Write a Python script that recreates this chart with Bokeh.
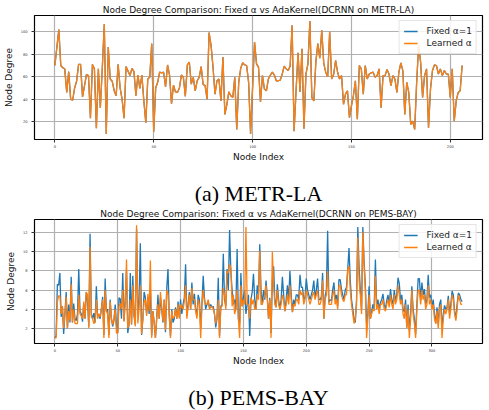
from bokeh.plotting import figure
from bokeh.layouts import column
from bokeh.models import Range1d, Title, FixedTicker
from bokeh.embed import file_html
from bokeh.resources import INLINE

# ---------------- data ----------------
metr_title = "Node Degree Comparison: Fixed α vs AdaKernel(DCRNN on METR-LA)"
pems_title = "Node Degree Comparison: Fixed α vs AdaKernel(DCRNN on PEMS-BAY)"
series_labels = ["Fixed α=1", "Learned α"]
x_label = "Node Index"
y_label = "Node Degree"
captions = ["(a) METR-LA", "(b) PEMS-BAY"]

metr_xticks = [0, 50, 100, 150, 200]
metr_yticks = [20, 40, 60, 80, 100]
pems_xticks = [0, 50, 100, 150, 200, 250, 300]
pems_yticks = [2, 4, 6, 8, 10, 12]

metr_fixed = [
    70, 86, 102, 70, 68, 67, 46, 64.5, 40, 39,
    50, 56, 71, 71, 42, 52, 62, 61, 23, 71,
    67, 14, 67, 32, 68, 107, 9, 86.5, 58, 56,
    47.5, 43, 71, 50, 40, 23, 69, 65, 61, 67.5,
    64.5, 43, 61.5, 49.5, 61.5, 38.5, 19, 58, 59.5, 89.5,
    11, 50, 55, 64, 63.5, 64, 51, 70.5, 61.5, 36,
    52.5, 46.5, 46, 50, 61.5, 59.5, 42.5, 70.5, 73, 53.4,
    59.4, 47.4, 56.4, 59.4, 69, 53, 52, 40, 99.4, 88,
    68.5, 44.4, 56.4, 58, 38.4, 77.5, 26.4, 35.4, 46.5, 43,
    41.4, 59.4, 13, 55, 67.5, 72.4, 70.6, 70, 55, 9,
    50, 91, 71.5, 68.5, 37.5, 61, 49, 47.4, 58, 61.5,
    64, 61.5, 56.4, 56.4, 57, 62.4, 69.4, 67, 65.5, 69.4,
    106, 11.4, 47.4, 81.4, 46.5, 85, 13.5, 62.4, 71.5, 109.6,
    41.4, 38.4, 73, 89.5, 76.5, 101.5, 72, 64, 60, 100,
    58, 62, 74.5, 64, 58, 61, 35.4, 44.4, 47.4, 23.4,
    34, 43, 56.4, 22, 70, 67, 44.4, 70, 58, 62.4,
    63.4, 64, 59.4, 61, 67, 32.4, 61, 61, 66.4, 62.4,
    52, 61, 58, 46, 64, 72.4, 65.5, 26.4, 55, 46,
    17.4, 20.4, 13, 55, 88, 73, 41.4, 61, 67, 14.4,
    49, 65.5, 70.6, 70, 62.4, 67, 61, 65.5, 62.4, 62.4,
    41.4, 67, 20.4, 38.4, 46, 47.4, 70,
]
metr_learned = [
    70, 86, 102, 70, 68, 67, 46, 64.5, 40, 39,
    50, 56, 71, 71, 42, 52, 62, 61, 23, 71,
    67, 14, 67, 32, 68, 107, 9, 86.5, 58, 56,
    47.5, 43, 71, 50, 40, 23, 69, 65, 61, 67.5,
    64.5, 43, 61.5, 49.5, 61.5, 38.5, 19, 58, 59.5, 89.5,
    11, 50, 55, 64, 63.5, 64, 51, 70.5, 61.5, 36,
    52.5, 46.5, 46, 50, 61.5, 59.5, 42.5, 70.5, 73, 53.4,
    59.4, 47.4, 56.4, 59.4, 69, 53, 52, 40, 99.4, 88,
    68.5, 44.4, 56.4, 58, 38.4, 77.5, 26.4, 35.4, 46.5, 43,
    41.4, 59.4, 13, 55, 67.5, 72.4, 70.6, 70, 55, 9,
    50, 91, 71.5, 68.5, 37.5, 61, 49, 47.4, 58, 61.5,
    64, 61.5, 56.4, 56.4, 57, 62.4, 69.4, 67, 65.5, 69.4,
    106, 11.4, 47.4, 81.4, 46.5, 85, 13.5, 62.4, 71.5, 109.6,
    41.4, 38.4, 73, 89.5, 76.5, 101.5, 72, 64, 60, 100,
    58, 62, 74.5, 64, 58, 61, 35.4, 44.4, 47.4, 23.4,
    34, 43, 56.4, 22, 70, 67, 44.4, 70, 58, 62.4,
    63.4, 64, 59.4, 61, 67, 32.4, 61, 61, 66.4, 62.4,
    52, 61, 58, 46, 64, 72.4, 65.5, 26.4, 55, 46,
    17.4, 20.4, 13, 55, 88, 73, 41.4, 61, 67, 14.4,
    49, 65.5, 70.6, 70, 62.4, 67, 61, 65.5, 62.4, 62.4,
    41.4, 67, 20.4, 38.4, 46, 47.4, 70,
]

pems_fixed = [
    1.0, 1.2, 6.6, 6.5, 7.8, 3.2, 4.3, 1.4, 3.5, 5.8,
    2.0, 4.5, 2.6, 7.4, 2.6, 4.6, 3.0, 2.8, 3.5, 8.2,
    3.8, 3.5, 2.7, 4.6, 3.0, 5.8, 4.8, 2.2, 11.9, 3.5,
    3.0, 3.6, 2.6, 6.4, 3.2, 3.5, 3.0, 4.0, 5.3, 1.3,
    7.2, 3.8, 4.0, 1.3, 5.0, 3.0, 2.2, 2.8, 4.5, 2.4,
    1.5, 5.2, 5.1, 3.0, 7.8, 2.8, 5.0, 8.0, 1.5, 2.4,
    7.8, 2.4, 7.5, 3.4, 2.4, 12.4, 3.5, 5.0, 10.9, 1.3,
    3.0, 5.8, 5.2, 3.5, 5.0, 3.5, 6.0, 1.2, 3.8, 2.6,
    1.0, 3.0, 5.5, 3.0, 5.2, 4.0, 2.6, 5.0, 1.6, 6.2,
    8.2, 3.4, 1.2, 4.0, 2.6, 3.0, 4.2, 3.0, 4.8, 3.2,
    5.0, 3.5, 4.5, 5.2, 8.7, 3.3, 4.5, 5.8, 4.0, 6.8,
    4.5, 5.6, 4.0, 3.3, 5.5, 5.0, 2.0, 4.5, 7.5, 5.2,
    4.0, 4.5, 4.8, 4.2, 4.5, 4.2, 4.3, 3.5, 2.1, 3.0,
    7.3, 1.2, 4.3, 4.5, 9.8, 5.0, 4.3, 8.2, 6.0, 12.3,
    8.0, 6.0, 4.5, 5.0, 4.0, 10.3, 3.0, 2.5, 7.8, 4.3,
    5.2, 6.0, 3.5, 4.5, 5.5, 1.2, 5.0, 5.8, 7.7, 5.0,
    4.0, 6.5, 5.5, 10.8, 6.0, 4.5, 6.0, 5.0, 7.0, 5.3,
    3.0, 5.2, 1.5, 7.0, 8.5, 5.0, 4.2, 6.6, 5.0, 4.0,
    5.0, 7.4, 5.5, 3.8, 5.0, 6.5, 5.0, 8.0, 5.6, 3.7,
    5.0, 4.5, 5.5, 5.5, 5.0, 7.6, 6.3, 6.3, 5.0, 5.2,
    7.2, 6.0, 5.5, 5.0, 5.5, 6.0, 7.0, 5.2, 6.0, 7.2,
    5.0, 5.0, 5.3, 7.8, 3.0, 5.4, 6.0, 12.2, 4.7, 5.0,
    4.9, 6.0, 6.8, 5.0, 5.5, 4.3, 7.1, 7.1, 6.1, 5.5,
    5.0, 6.0, 6.3, 8.2, 10.4, 7.0, 5.0, 4.0, 3.0, 2.6,
    5.0, 12.6, 8.5, 6.0, 4.0, 12.6, 9.0, 6.5, 2.5, 3.5,
    6.4, 3.0, 3.7, 4.5, 4.0, 9.2, 4.2, 5.0, 4.0, 4.7,
    5.0, 5.6, 4.5, 4.0, 4.9, 5.5, 4.5, 6.1, 5.0, 4.5,
    6.0, 4.9, 5.5, 7.3, 6.7, 4.9, 5.5, 4.0, 3.7, 5.0,
    2.1, 4.5, 1.8, 3.5, 6.4, 4.0, 3.0, 1.4, 4.5, 7.2,
    7.2, 5.0, 6.8, 5.5, 6.1, 4.5, 5.0, 7.6, 5.2, 5.5,
    4.3, 5.0, 3.5, 2.5, 4.2, 2.4, 4.5, 5.0, 2.0, 3.5,
    4.4, 4.0, 4.2, 5.4, 3.5, 4.5, 5.9, 5.5, 3.8, 3.0,
    4.5, 5.7, 5.5, 5.0, 4.8,
]
pems_learned = [
    1.0, 1.0, 4.8, 5.4, 5.4, 3.5, 4.3, 2.0, 3.5, 5.3,
    2.0, 3.8, 2.8, 6.6, 2.6, 4.0, 2.5, 2.5, 2.5, 5.5,
    3.5, 3.3, 3.0, 4.8, 3.0, 5.8, 5.5, 2.0, 10.5, 3.3,
    3.0, 2.5, 2.6, 5.0, 3.0, 3.5, 3.2, 4.0, 5.0, 1.0,
    6.0, 3.8, 3.5, 1.0, 4.8, 3.0, 2.4, 3.0, 4.0, 1.5,
    1.5, 4.3, 4.6, 4.0, 6.0, 2.7, 4.8, 9.2, 2.0, 2.4,
    5.0, 2.4, 6.5, 3.3, 2.2, 12.8, 2.5, 4.0, 6.5, 1.4,
    3.0, 4.8, 5.0, 3.3, 5.6, 3.8, 9.1, 1.0, 3.8, 2.6,
    1.0, 3.0, 4.5, 3.0, 5.8, 4.3, 2.7, 5.0, 1.8, 6.0,
    5.6, 3.3, 1.0, 3.8, 3.0, 3.2, 4.0, 3.0, 4.5, 3.0,
    4.5, 4.2, 4.0, 4.8, 6.5, 3.0, 4.2, 5.5, 4.0, 6.2,
    5.0, 5.0, 3.8, 3.0, 5.0, 4.5, 1.0, 4.5, 6.0, 4.8,
    4.5, 4.5, 5.0, 4.0, 4.2, 4.3, 4.0, 3.5, 2.5, 3.2,
    5.0, 1.0, 4.2, 4.3, 6.2, 5.5, 4.0, 8.0, 7.8, 8.7,
    8.3, 4.3, 5.5, 3.5, 4.0, 6.0, 3.0, 1.0, 6.5, 4.3,
    5.0, 4.5, 12.6, 4.5, 4.5, 3.0, 5.2, 4.5, 5.0, 4.0,
    4.0, 5.5, 5.0, 10.1, 4.5, 4.5, 5.0, 5.5, 6.5, 5.0,
    3.0, 5.0, 1.0, 10.0, 6.5, 4.5, 4.2, 6.0, 4.5, 4.0,
    4.5, 5.5, 5.0, 3.8, 4.5, 5.5, 4.5, 6.5, 5.0, 3.7,
    4.5, 4.3, 5.0, 5.0, 4.5, 6.0, 5.5, 5.8, 4.5, 5.0,
    6.0, 5.5, 5.0, 4.5, 5.0, 5.5, 5.8, 5.0, 5.5, 6.0,
    4.5, 4.5, 5.0, 7.0, 3.0, 5.0, 5.5, 8.0, 4.5, 4.5,
    4.5, 5.5, 6.0, 4.5, 5.0, 4.0, 6.5, 6.5, 5.5, 5.0,
    4.8, 5.5, 5.5, 8.2, 8.5, 6.0, 4.5, 3.5, 2.5, 3.0,
    4.5, 11.5, 7.0, 5.5, 3.5, 12.1, 8.5, 6.0, 1.0, 3.0,
    5.5, 3.0, 3.5, 4.0, 3.8, 7.5, 4.0, 4.5, 3.5, 4.5,
    4.5, 5.0, 4.0, 3.8, 4.5, 5.0, 4.2, 5.5, 4.5, 4.0,
    5.5, 4.5, 5.0, 6.5, 5.5, 4.5, 5.0, 3.5, 3.0, 4.5,
    2.0, 4.0, 1.0, 3.0, 6.0, 3.5, 2.5, 1.0, 4.0, 6.0,
    6.0, 4.5, 6.0, 5.0, 5.5, 4.0, 4.5, 6.5, 4.5, 5.0,
    4.0, 4.5, 3.0, 2.5, 3.8, 2.0, 4.0, 4.5, 1.0, 3.0,
    4.0, 3.5, 4.0, 5.0, 3.0, 4.0, 5.5, 5.0, 3.5, 2.8,
    4.0, 5.5, 5.0, 4.5, 4.5,
]

metr_nodes = list(range(len(metr_fixed)))
pems_nodes = list(range(len(pems_fixed)))

BLUE = "#1f77b4"
ORANGE = "#ff7f0e"
FONT = "DejaVu Sans"


def padded(lo, hi, frac=0.05):
    span = hi - lo
    return Range1d(lo - frac * span, hi + frac * span)


def make_panel(title, xs, fixed, learned, xticks, yticks, caption,
               height, b_left, b_right, b_top, b_bottom, cap_offset, gap_px):
    p = figure(width=489, height=height, output_backend="svg", toolbar_location=None,
               min_border_left=b_left, min_border_right=b_right,
               min_border_top=b_top, min_border_bottom=b_bottom,
               x_range=padded(min(xs), max(xs)),
               y_range=padded(min(min(fixed), min(learned)), max(max(fixed), max(learned))))
    p.title.text = title
    p.title.text_font = FONT
    p.title.text_font_size = "9px"
    p.title.text_font_style = "normal"
    p.title.align = "center"
    p.title.standoff = 2
    p.title.text_color = "#111111"

    p.line(xs, fixed, line_color=BLUE, line_width=1.3, legend_label=series_labels[0])
    p.line(xs, learned, line_color=ORANGE, line_width=1.3, legend_label=series_labels[1])

    p.xaxis.ticker = FixedTicker(ticks=xticks)
    p.yaxis.ticker = FixedTicker(ticks=yticks)
    for ax in (p.xaxis[0], p.yaxis[0]):
        ax.axis_line_color = None
        ax.minor_tick_line_color = None
        ax.major_tick_in = 0
        ax.major_tick_out = 3
        ax.major_tick_line_color = "#333333"
        ax.major_label_text_font = FONT
        ax.major_label_text_font_size = "3.6px"
        ax.major_label_text_color = "#333333"
        ax.axis_label_text_font = FONT
        ax.axis_label_text_font_size = "9px"
        ax.axis_label_text_font_style = "normal"
        ax.axis_label_text_color = "#111111"
    p.xaxis.axis_label = x_label
    p.yaxis.axis_label = y_label
    p.xaxis.major_label_standoff = 2
    p.xaxis.axis_label_standoff = 1
    p.yaxis.major_label_standoff = 4
    p.yaxis.axis_label_standoff = 4

    p.outline_line_color = "black"
    p.outline_line_width = 1.2
    p.grid.grid_line_color = "#b0b0b0"
    p.grid.grid_line_width = 1.2
    p.background_fill_color = "white"

    lg = p.legend[0]
    lg.location = "top_right"
    lg.margin = 5
    lg.padding = 4
    lg.spacing = 0
    lg.glyph_width = 14
    lg.glyph_height = 12
    lg.label_height = 12
    lg.label_standoff = 9
    lg.label_text_font = FONT
    lg.label_text_font_size = "9px"
    lg.label_text_color = "#222222"
    lg.border_line_color = "#cccccc"
    lg.background_fill_alpha = 0.85

    # blank spacer title pushes the caption further below the axis
    spacer = Title(text=" ", text_font_size=f"{gap_px}px", standoff=0, text_color="white")
    p.add_layout(spacer, "below")
    cap = Title(text=caption, align="center", text_font="Liberation Serif",
                text_font_size="22px", text_font_style="normal",
                text_color="black", offset=cap_offset, standoff=0)
    p.add_layout(cap, "below")
    return p


p1 = make_panel(metr_title, metr_nodes, metr_fixed, metr_learned, metr_xticks, metr_yticks,
                captions[0], 205, 28, 7, 15, 66, -11, 11)
p2 = make_panel(pems_title, pems_nodes, pems_fixed, pems_learned, pems_xticks, pems_yticks,
                captions[1], 205, 25, 7, 14, 67, -12, 11)

layout = column(p1, p2, spacing=0)
open("out.html", "w").write(file_html(layout, INLINE))
